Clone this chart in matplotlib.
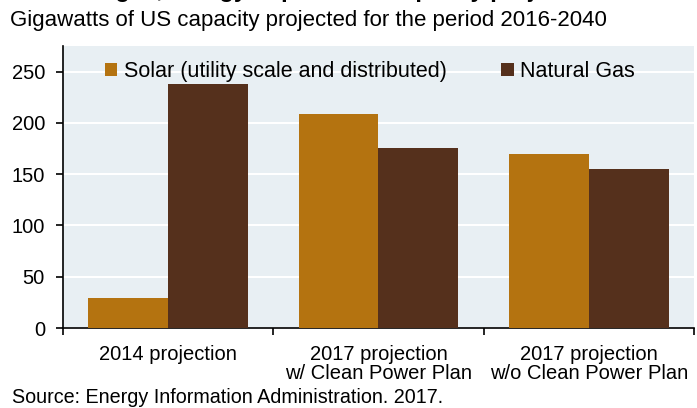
import numpy as np
import matplotlib
matplotlib.use('Agg')
import matplotlib.pyplot as plt

plt.rcParams['font.family'] = ['Liberation Sans', 'DejaVu Sans']

# datos
categorias = ['2014 projection', '2017 projection\nw/ Clean Power Plan', '2017 projection\nw/o Clean Power Plan']
solar = [29, 209, 170]
gas = [238, 176, 155]
series = ['Solar (utility scale and distributed)', 'Natural Gas']
colores = ['#B47310', '#55301C']

fig = plt.figure(figsize=(6.97, 4.08), dpi=100)
ax = fig.add_axes([63/697, 1-328/408, 631/697, 282/408])
ax.set_facecolor('#E8EFF3')

x = np.arange(len(categorias))
w = 0.38
ax.bar(x - w/2, solar, w, color=colores[0], label=series[0], zorder=3)
ax.bar(x + w/2, gas, w, color=colores[1], label=series[1], zorder=3)

ax.set_xlim(-0.5, 2.5)
ax.set_ylim(0, 275)
ax.set_yticks([0, 50, 100, 150, 200, 250])
ax.yaxis.grid(True, color='white', linewidth=1.5, zorder=1)
ax.set_axisbelow(True)
for s in ['top', 'right']:
    ax.spines[s].set_visible(False)
ax.spines['left'].set_linewidth(1.2)
ax.spines['bottom'].set_linewidth(1.2)

# ticks en los bordes de las categorias, etiquetas centradas
ax.set_xticks([-0.5, 0.5, 1.5, 2.5])
ax.set_xticklabels([])
ax.set_xticks(x, minor=True)
ax.set_xticklabels(categorias, minor=True, fontsize=14.5, linespacing=1.05, va='top')
ax.tick_params(axis='x', which='minor', length=0, pad=12)
ax.tick_params(axis='x', which='major', length=5, width=1.2, direction='out')
ax.tick_params(axis='y', length=5, width=1.2, labelsize=14.5, pad=8)

leg = ax.legend(loc='upper left', bbox_to_anchor=(0.042, 1.0), ncol=2, frameon=False,
                fontsize=15.5, handlelength=0.6, handleheight=0.6, handletextpad=0.3,
                columnspacing=2.5, borderaxespad=0.3)

# titulo cortado arriba, como en la imagen original
fig.text(10/697, 1+2.5/408, 'Solar vs. gas, energy department capacity projections',
         fontsize=17, fontweight='bold', va='baseline', ha='left')
fig.text(10/697, 1-26/408, 'Gigawatts of US capacity projected for the period 2016-2040',
         fontsize=16, va='baseline', ha='left')
fig.text(12/697, 1-403/408, 'Source: Energy Information Administration. 2017.',
         fontsize=14.2, va='baseline', ha='left')

fig.savefig('out.png', dpi=100)
